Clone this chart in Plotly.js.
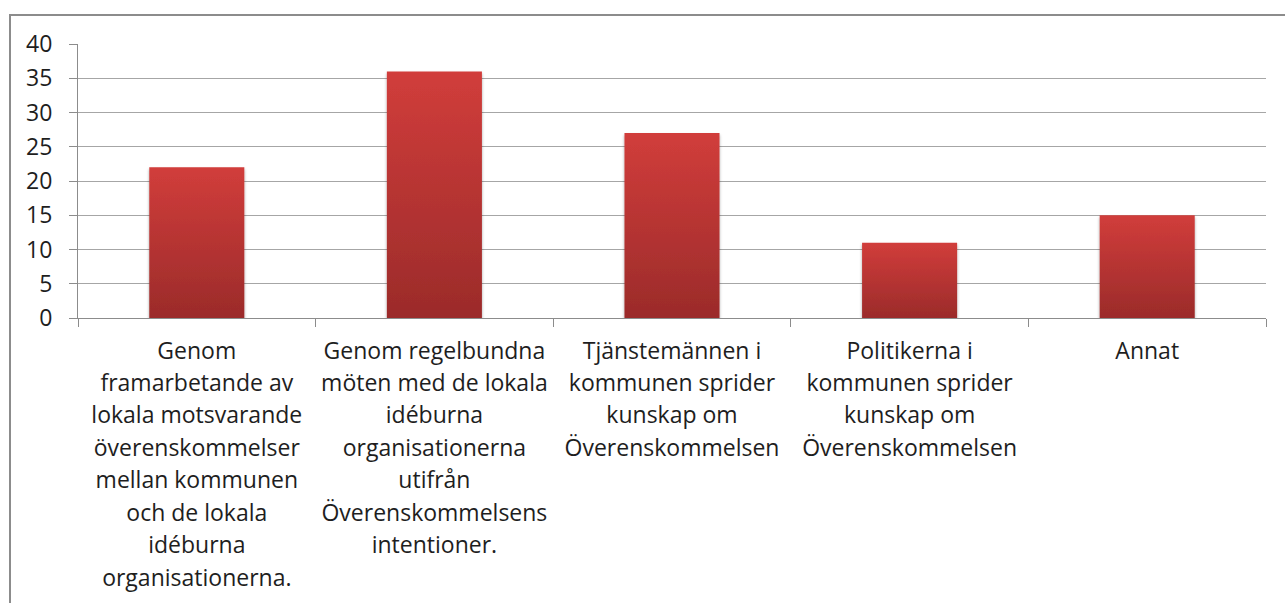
<!DOCTYPE html>
<html>
<head>
<meta charset="utf-8">
<script src="https://cdn.plot.ly/plotly-3.0.1.min.js"></script>
<style>
  html, body { margin: 0; padding: 0; background: #fff; }
  #wrap { position: relative; width: 1285px; height: 603px; overflow: hidden; }
  #frame { position: absolute; left: 9px; top: 14px; width: 1400px; height: 700px;
           border-left: 2px solid #8c8c8c; border-top: 2px solid #8c8c8c; pointer-events: none; z-index: 2; }
  #chart { position: absolute; left: 0; top: 0; width: 1285px; height: 603px; }
</style>
</head>
<body>
<div id="wrap">
  <div id="chart"></div>
  <div id="frame"></div>
</div>
<script>
const categories = [
  "Genom<br>framarbetande av<br>lokala motsvarande<br>överenskommelser<br>mellan kommunen<br>och de lokala<br>idéburna<br>organisationerna.",
  "Genom regelbundna<br>möten med de lokala<br>idéburna<br>organisationerna<br>utifrån<br>Överenskommelsens<br>intentioner.",
  "Tjänstemännen i<br>kommunen sprider<br>kunskap om<br>Överenskommelsen",
  "Politikerna i<br>kommunen sprider<br>kunskap om<br>Överenskommelsen",
  "Annat"
];
const values = [22, 36, 27, 11, 15];
const yTicks = [0, 5, 10, 15, 20, 25, 30, 35, 40];

const fontFam = "'Open Sans', Lato, sans-serif";

const trace = {
  type: "bar",
  x: categories,
  y: values,
  width: 0.4,
  marker: { color: "#b83535", line: { width: 0 } },
  hoverinfo: "none"
};

const layout = {
  width: 1285, height: 603,
  margin: { l: 78, r: 19, t: 44, b: 285 },
  paper_bgcolor: "#fff", plot_bgcolor: "#fff",
  showlegend: false,
  font: { family: fontFam, size: 23, color: "#1e1e1e" },
  xaxis: {
    type: "category",
    showline: true, linecolor: "#8c8c8c", linewidth: 1,
    ticks: "outside", tickson: "boundaries", ticklen: 8, tickcolor: "#8c8c8c", tickwidth: 1,
    showgrid: false, zeroline: false,
    tickangle: 0,
    ticklabelstandoff: 12,
    tickfont: { family: fontFam, size: 23, color: "#1e1e1e" }
  },
  yaxis: {
    range: [0, 40],
    tickvals: yTicks,
    ticktext: yTicks.map(String),
    showline: true, linecolor: "#8c8c8c", linewidth: 1,
    ticks: "outside", ticklen: 8, tickcolor: "#8c8c8c", tickwidth: 1,
    showgrid: true, gridcolor: "#a6a6a6", gridwidth: 1,
    zeroline: false,
    ticklabelstandoff: 12,
    tickfont: { family: fontFam, size: 23, color: "#1e1e1e" }
  }
};

function postProcess(gd) {
  const svg = gd.querySelector("svg.main-svg");
  if (!svg) return;
  let defs = svg.querySelector("defs");
  if (!defs) { defs = document.createElementNS("http://www.w3.org/2000/svg", "defs"); svg.insertBefore(defs, svg.firstChild); }
  if (!svg.querySelector("#barGrad")) {
    defs.insertAdjacentHTML("beforeend",
      '<linearGradient id="barGrad" x1="0" y1="0" x2="0" y2="1">' +
      '<stop offset="0" stop-color="#d13d3b"/>' +
      '<stop offset="1" stop-color="#9b2b2a"/></linearGradient>' +
      '<filter id="barShadow" x="-10%" y="-10%" width="120%" height="120%">' +
      '<feDropShadow dx="0" dy="2" stdDeviation="1.5" flood-color="#000" flood-opacity="0.35"/></filter>');
  }
  gd.querySelectorAll(".barlayer .point path").forEach(p => {
    p.style.fill = "url(#barGrad)";
    p.setAttribute("filter", "url(#barShadow)");
  });
  // widen line spacing of multi-line category labels (scale each line's offset)
  gd.querySelectorAll(".xtick text tspan.line").forEach(t => {
    const dy = t.getAttribute("dy");
    if (!dy) return;
    const v = parseFloat(dy);
    if (isFinite(v) && v !== 0) t.setAttribute("dy", (v * 1.41 / 1.3).toFixed(3) + "em");
  });
}

Plotly.newPlot("chart", [trace], layout, { staticPlot: true, displayModeBar: false }).then(gd => {
  postProcess(gd);
});
</script>
</body>
</html>
